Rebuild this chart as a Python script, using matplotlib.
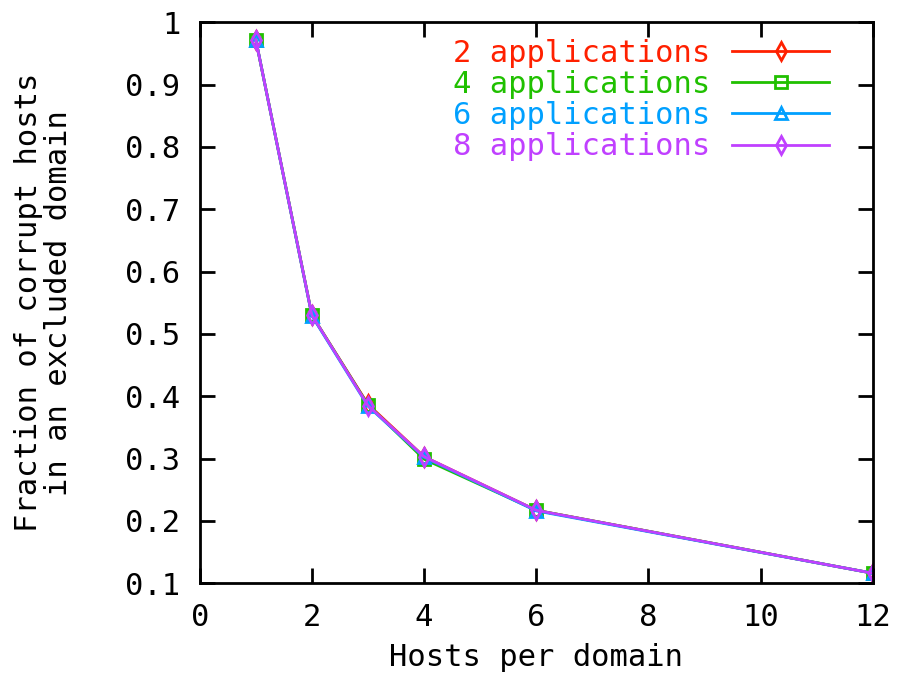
import numpy as np
import matplotlib
matplotlib.use("Agg")
from matplotlib import pyplot as plt

hosts = [1, 2, 3, 4, 6, 12]
app2 = [0.972, 0.530, 0.387, 0.303, 0.217, 0.116]
app4 = [0.972, 0.530, 0.386, 0.299, 0.217, 0.116]
app6 = [0.972, 0.529, 0.384, 0.302, 0.216, 0.116]
app8 = [0.972, 0.530, 0.385, 0.303, 0.217, 0.116]

series = [app2, app4, app6, app8]
labels = ['2 applications', '4 applications', '6 applications', '8 applications']
colors = ['#ff2000', '#20c000', '#00a0ff', '#c040ff']
markers = ['d', 's', '^', 'd']

plt.rcParams['font.family'] = ['DejaVu Sans Mono']
plt.rcParams['font.size'] = 22

fig = plt.figure(figsize=(9.12, 6.75), dpi=100)
ax = fig.add_axes([0.219, 0.136, 0.738, 0.831])

for s, c, m, l in zip(series, colors, markers, labels):
    ax.plot(hosts, s, color=c, marker=m, markersize=9, mfc='none', mew=2,
            lw=2, label=l)

ax.set_xlim(0, 12)
ax.set_ylim(0.1, 1)
ax.set_xticks(np.arange(0, 13, 2))
ax.set_yticks(np.arange(0.1, 1.01, 0.1))
ax.set_yticklabels(['0.1', '0.2', '0.3', '0.4', '0.5', '0.6', '0.7', '0.8', '0.9', '1'])
ax.tick_params(direction='in', length=11, width=2, top=True, right=True)
ax.tick_params(axis='y', pad=14)
ax.tick_params(axis='x', pad=14)
for sp in ax.spines.values():
    sp.set_linewidth(2)

ax.set_xlabel('Hosts per domain')
ax.xaxis.set_label_coords(0.5, -0.106)
ax.set_ylabel('Fraction of corrupt hosts\nin an excluded domain', linespacing=1.05)
ax.yaxis.set_label_coords(-0.188, 0.5)

ax.legend(loc='upper right', bbox_to_anchor=(0.972, 1.014), frameon=False,
          markerfirst=False, labelcolor='linecolor', handlelength=3.2,
          labelspacing=0.07, borderpad=0.3, handletextpad=0.7)

fig.savefig('out.png', dpi=100)
